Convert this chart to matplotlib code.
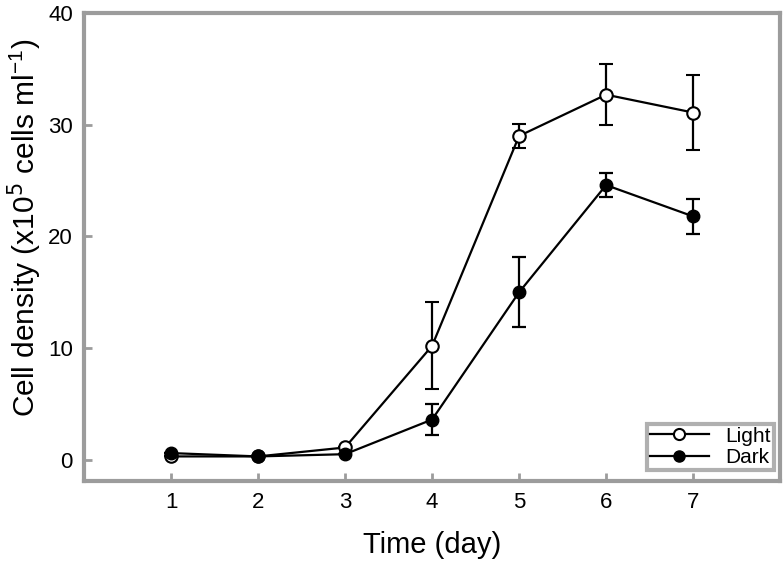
import matplotlib.pyplot as plt
from matplotlib.lines import Line2D

plt.rcParams['font.family'] = ['Liberation Sans', 'DejaVu Sans']

days = [1, 2, 3, 4, 5, 6, 7]

# Light
light = [0.3, 0.3, 1.1, 10.2, 29.0, 32.7, 31.1]
light_err = [0.0, 0.0, 0.0, 3.9, 1.05, 2.75, 3.35]

# Dark
dark = [0.6, 0.3, 0.5, 3.6, 15.0, 24.6, 21.8]
dark_err = [0.0, 0.0, 0.0, 1.4, 3.15, 1.1, 1.6]

grey = '#9c9c9c'

fig = plt.figure(figsize=(7.83, 5.65), dpi=100)
ax = fig.add_axes([0.1073, 0.1487, 0.889, 0.828])

ax.errorbar(days, light, yerr=light_err, color='black', lw=1.6, marker='o',
            markersize=9, markerfacecolor='white', markeredgecolor='black',
            markeredgewidth=1.5, capsize=5, capthick=1.6, elinewidth=1.6,
            zorder=3)
ax.errorbar(days, dark, yerr=dark_err, color='black', lw=1.6, marker='o',
            markersize=9, markerfacecolor='black', markeredgecolor='black',
            capsize=5, capthick=1.6, elinewidth=1.6, zorder=3)

ax.set_xlim(0, 8)
ax.set_ylim(-1.9, 40)
ax.set_xticks(days)
ax.set_yticks([0, 10, 20, 30, 40])

for s in ax.spines.values():
    s.set_color(grey)
    s.set_linewidth(3)
ax.tick_params(direction='in', length=6, width=2, color=grey, labelsize=16,
               labelcolor='black', pad=8)

ax.set_xlabel('Time (day)', fontsize=21, labelpad=13)
ax.set_ylabel('Cell density (x10$^{5}$ cells ml$^{\\mathregular{-1}}$)',
              fontsize=21.5)
ax.yaxis.set_label_coords(-0.058, 0.541)

# legend without error bars
handles = [
    Line2D([], [], color='black', lw=1.6, marker='o', markersize=8,
           markerfacecolor='white', markeredgecolor='black', markeredgewidth=1.5),
    Line2D([], [], color='black', lw=1.6, marker='o', markersize=8,
           markerfacecolor='black', markeredgecolor='black'),
]
leg = ax.legend(handles, ['Light', 'Dark'], loc='lower right',
                bbox_to_anchor=(0.991, 0.0235), borderaxespad=0,
                fontsize=15, frameon=True, fancybox=False, handlelength=2.8,
                borderpad=0.15, labelspacing=0.1, handletextpad=0.8)
leg.get_frame().set_edgecolor(grey)
leg.get_frame().set_linewidth(3)

fig.savefig('out.png', dpi=100)
